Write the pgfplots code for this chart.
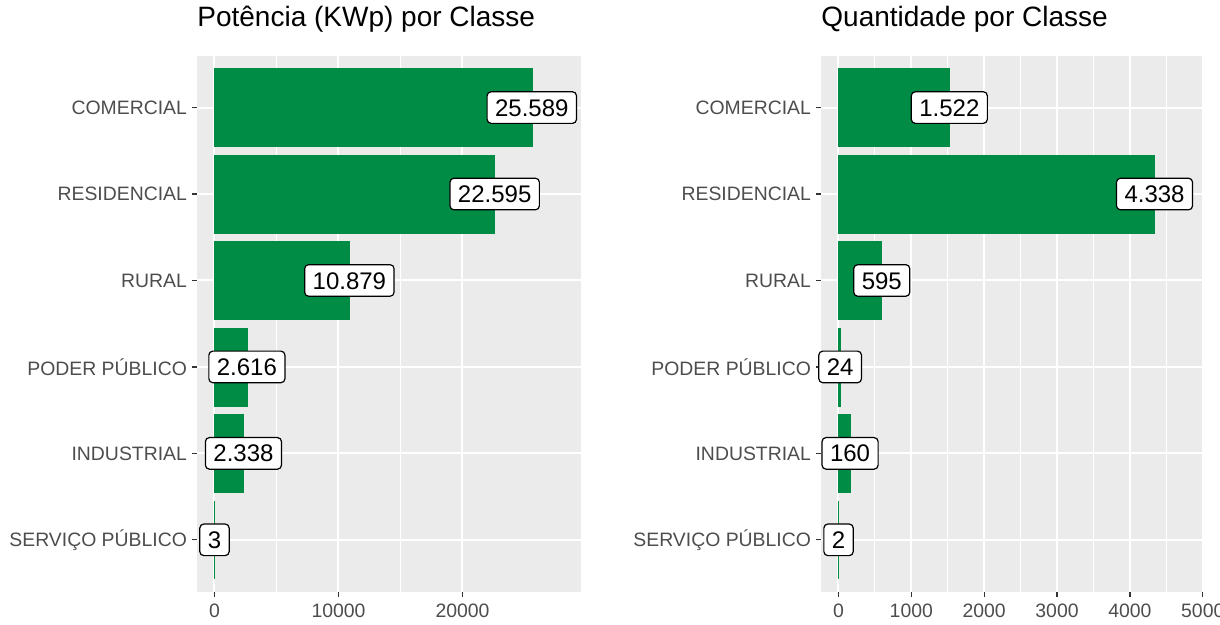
\documentclass[border=0pt]{standalone}
\usepackage{pgfplots}
\usepackage{pgfplotstable}
\pgfplotsset{compat=1.18}
\usepackage{fontspec}
\setmainfont{Liberation Sans}
\definecolor{barg}{HTML}{008C45}
\definecolor{panel}{HTML}{EBEBEB}
\definecolor{ticklab}{HTML}{4D4D4D}
\definecolor{tickc}{HTML}{333333}

\pgfplotstableread{
y v l
6 25589 25.589
5 22595 22.595
4 10879 10.879
3 2616 2.616
2 2338 2.338
1 3 3
}\potencia

\pgfplotstableread{
y v l
6 1522 1.522
5 4338 4.338
4 595 595
3 24 24
2 160 160
1 2 2
}\quantidade

\pgfplotsset{
  gg/.style={
    scale only axis, height=268pt,
    axis background/.style={fill=panel},
    axis line style={draw=none},
    ymin=0.4, ymax=6.6,
    ytick={1,...,6},
    yticklabels={SERVIÇO PÚBLICO, INDUSTRIAL, PODER PÚBLICO, RURAL, RESIDENCIAL, COMERCIAL},
    xmajorgrids, ymajorgrids, xminorgrids,
    minor x tick num=1,
    major grid style={white, line width=1pt},
    minor grid style={white, line width=0.5pt},
    tick align=outside,
    major tick length=2.5pt, minor tick length=0pt,
    tick style={tickc, line width=0.6pt},
    xtick pos=left, ytick pos=left,
    tick label style={font=\fontsize{9.7}{11}\selectfont, text=ticklab},
    yticklabel style={xshift=1pt},
    /pgf/number format/assume math mode=true,
    /pgf/number format/set thousands separator={},
    scaled x ticks=false,
    title style={at={(0,1)}, anchor=base west, yshift=8.7pt, inner sep=0pt, font=\fontsize{14}{16}\selectfont},
    clip=false,
  },
  lab/.style={draw=none, nodes near coords, point meta=explicit symbolic,
    nodes near coords style={anchor=center, draw=black, fill=white, text=black,
      rounded corners=2pt, line width=0.6pt, inner xsep=4pt, inner ysep=3.6pt,
      text height=8.6pt, text depth=0pt, font=\fontsize{12}{14}\selectfont}},
  ggbar/.style={xbar, bar width=0.9, fill=barg, draw=barg, line width=0.3pt},
}

\begin{document}
\begin{tikzpicture}
\useasboundingbox (-98.5pt,-16.65pt) rectangle (511.5pt,295.85pt);
\begin{axis}[gg, width=192pt, xmin=-1407, xmax=29555, xtick={0,10000,20000},
  title={Potência (KWp) por Classe}]
  \addplot[ggbar] table[x=v, y=y] {\potencia};
  \addplot[lab] table[x=v, y=y, meta=l] {\potencia};
\end{axis}
\begin{axis}[gg, at={(312pt,0)}, width=191.25pt, xmin=-239, xmax=5010, xtick={0,1000,...,5000},
  title={Quantidade por Classe}]
  \addplot[ggbar] table[x=v, y=y] {\quantidade};
  \addplot[lab] table[x=v, y=y, meta=l] {\quantidade};
\end{axis}
\end{tikzpicture}
\end{document}
